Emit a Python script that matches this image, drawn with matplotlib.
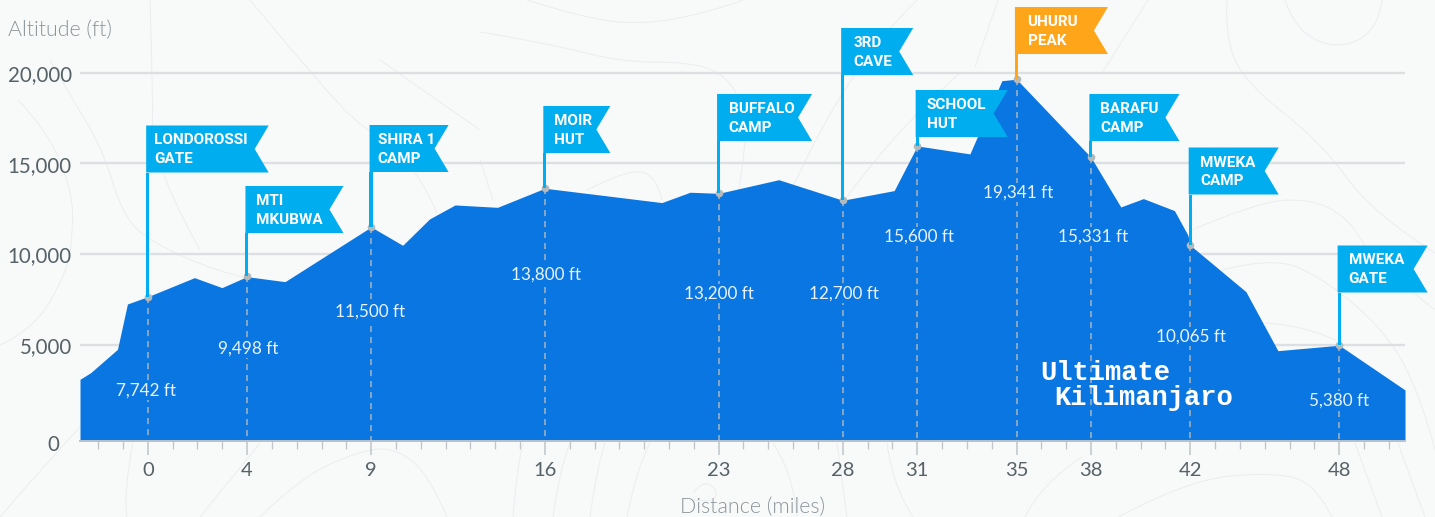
import matplotlib
matplotlib.use("Agg")
import matplotlib.pyplot as plt
from matplotlib.patches import PathPatch, Polygon
from matplotlib.path import Path
from matplotlib.transforms import IdentityTransform, ScaledTranslation

# ---- data ----
profile_miles = [-2.73, -2.3, -1.22, -0.82, 0, 1.88, 2.99, 3.99, 5.53, 9, 10.27, 11.35, 12.38, 14.09, 16,
                 20.71, 21.85, 23, 25.42, 28, 30.07, 31, 33.12, 34.41, 35, 38, 39.2, 40.11, 41.36, 41.9,
                 42, 44.24, 45.53, 48, 50.65]
profile_alt = [3115, 3480, 4765, 7260, 7660, 8710, 8160, 8765, 8490, 11500, 10490, 11940, 12710, 12580, 13630,
               12840, 13410, 13350, 14100, 12970, 13500, 15960, 15520, 19550, 19630, 15330, 12600, 13060, 12400, 11060,
               10490, 7940, 4690, 4990, 2530]
camp_miles = [0, 4, 9, 16, 23, 28, 31, 35, 38, 42, 48]
camp_alt = [7660, 8800, 11500, 13660, 13350, 12970, 15960, 19630, 15330, 10490, 4990]
camp_names = [("LONDOROSSI", "GATE"), ("MTI", "MKUBWA"), ("SHIRA 1", "CAMP"), ("MOIR", "HUT"),
              ("BUFFALO", "CAMP"), ("3RD", "CAVE"), ("SCHOOL", "HUT"), ("UHURU", "PEAK"),
              ("BARAFU", "CAMP"), ("MWEKA", "CAMP"), ("MWEKA", "GATE")]
camp_labels = ["7,742 ft", "9,498 ft", "11,500 ft", "13,800 ft", "13,200 ft", "12,700 ft", "15,600 ft",
               "19,341 ft", "15,331 ft", "10,065 ft", "5,380 ft"]
y_ticks = [0, 5000, 10000, 15000, 20000]
y_tick_labels = ["0", "5,000", "10,000", "15,000", "20,000"]

# ---- layout (pixels) ----
W, H = 1435, 517
flag_top = [125.5, 186, 125, 106, 94, 28, 90, 7, 94, 147.5, 245.5]
flag_width = [122.5, 98, 79, 67, 95, 72, 92, 93, 90, 90, 90]
flag_text_dx = [6, 9, 6.5, 9, 10, 11, 9.5, 11, 9, 10, 9.5]
label_x = [146, 248.5, 370.5, 546, 718.5, 844, 919.5, 1018, 1093, 1191, 1339]
label_y = [390.5, 348.5, 311.5, 274.5, 293.5, 293.5, 236.5, 192.5, 236.5, 336.5, 400.5]
contours = [
    [(18,100),(47,130),(72,190),(73,233),(67,273),(33,330),(0,345)],
    [(50,60),(73,100),(103,150),(123,217),(153,243),(213,270),(253,280)],
    [(150,0),(153,100),(152,133),(167,190),(200,250)],
    [(250,0),(333,100),(367,130),(417,167),(437,213)],
    [(380,60),(437,100),(480,130)],
    [(80,427),(40,470),(0,517)],
    [(133,443),(123,493),(127,517)],
    [(260,443),(200,517)],
    [(260,517),(300,477),(367,448),(400,450),(430,477),(447,517)],
    [(527,0),(580,17),(640,25),(707,13),(743,0)],
    [(480,32),(547,43),(620,62),(687,62),(723,73),(743,103),(747,143),(737,200)],
    [(587,190),(630,168),(657,177),(662,200)],
    [(480,160),(493,200)],
    [(917,0),(847,67),(793,187)],
    [(960,73),(893,133),(847,197)],
    [(513,517),(517,467),(523,443)],
    [(553,517),(560,467),(570,443)],
    [(590,517),(597,467),(605,443)],
    [(627,517),(637,467),(650,443)],
    [(693,493),(703,480),(718,490),(713,503),(693,500)],
    [(773,443),(793,473),(797,517)],
    [(837,443),(847,517)],
    [(887,443),(893,487),(913,517)],
    [(1148,0),(1102,73)],
    [(998,0),(975,67)],
    [(1227,0),(1225,33),(1242,80),(1322,143),(1372,213),(1435,253)],
    [(1285,0),(1295,30),(1338,50),(1378,30),(1382,0)],
    [(1192,230),(1255,203),(1308,198),(1348,217),(1375,263),(1435,310)],
    [(1222,270),(1272,257),(1322,277),(1388,333),(1422,400),(1435,450)],
    [(1265,323),(1305,325),(1342,343)],
    [(1355,443),(1382,517)],
    [(1398,443),(1425,517)],
    [(1118,517),(1188,480),(1272,472),(1315,483),(1332,517)],
    [(1025,517),(1042,483),(1082,457)],
]

BG = "#f8f9f9"
AREA = "#0a76e2"
FLAG = "#00aeef"
PEAK = "#ffa51a"
GRID = "#dde0e2"
TICK = "#bfc5c9"
LABEL = "#566267"
TITLE = "#8a9499"

fig = plt.figure(figsize=(W / 100, H / 100), dpi=100, facecolor=BG)
ax = fig.add_axes([80 / W, (H - 441) / H, (1405 - 80) / W, 441 / H])
ax.patch.set_alpha(0)
ax.set_xlim(-2.73, 50.65)
ax.set_ylim(-280, 23990)


def px(x, y):
    return (x, H - y)


# contour background
for c in contours:
    pts = [px(*p) for p in c]
    verts = [pts[0]]
    codes = [Path.MOVETO]
    for i in range(1, len(pts) - 1):
        nxt = pts[i + 1] if i == len(pts) - 2 else ((pts[i][0] + pts[i + 1][0]) / 2, (pts[i][1] + pts[i + 1][1]) / 2)
        verts += [pts[i], nxt]
        codes += [Path.CURVE3, Path.CURVE3]
    if len(pts) == 2:
        verts.append(pts[1])
        codes.append(Path.LINETO)
    fig.add_artist(PathPatch(Path(verts, codes), transform=IdentityTransform(), fc="none",
                             ec="#ebedee", lw=0.7, zorder=-5))

# grid
ax.hlines(y_ticks[1:], -2.73, 50.65, color=GRID, lw=1.7, zorder=1)
# area
ax.fill_between(profile_miles, profile_alt, -280, color=AREA, lw=0, zorder=2)

# axes
for s in ["top", "left", "right"]:
    ax.spines[s].set_visible(False)
ax.spines["bottom"].set_color("#b9c3cc")
ax.spines["bottom"].set_linewidth(1.4)
ax.spines["bottom"].set_zorder(3)
ax.set_yticks(y_ticks)
ax.set_yticklabels(y_tick_labels, fontname="Lato", fontsize=14.8, color=LABEL)
ax.tick_params(axis="y", length=0, pad=6)
ylbls = ax.get_yticklabels()
for lb in ylbls:
    lb.set_transform(lb.get_transform() + ScaledTranslation(0, -0.3 / 100, fig.dpi_scale_trans))
ylbls[0].set_transform(ylbls[0].get_transform() + ScaledTranslation(-12 / 100, -6.7 / 100, fig.dpi_scale_trans))
ax.set_xticks(camp_miles)
ax.set_xticklabels([str(m) for m in camp_miles], fontname="Lato", fontsize=14.5, color=LABEL)
ax.set_xticks(range(-2, 51), minor=True)
ax.tick_params(axis="x", which="major", length=10, width=1.1, color=TICK, pad=5)
ax.tick_params(axis="x", which="minor", length=6, width=0.9, color=TICK)

fig.text(8 / W, 1 - 30 / H, "Altitude (ft)", fontname="Lato", fontweight=300, fontsize=15.4, color=TITLE, va="center")
fig.text(753 / W, 1 - 507 / H, "Distance (miles)", fontname="Lato", fontweight=300, fontsize=15.5, color=TITLE,
         va="center", ha="center")

# camps
fig.canvas.draw()
for i, (m, a) in enumerate(zip(camp_miles, camp_alt)):
    col = PEAK if camp_names[i][0] == "UHURU" else FLAG
    X, Y = ax.transData.transform((m, a))
    ax.plot([m, m], [a, -280], color="#a9b4bd", lw=1.1, dashes=(4, 3.2), zorder=3, clip_on=False)
    top = flag_top[i]
    bot = top + 47
    L = X - 1.6
    R = L + flag_width[i]
    fig.add_artist(Polygon([(L, H - top), (R, H - top), (R - 14, H - (top + bot) / 2), (R, H - bot), (L, H - bot)],
                           closed=True, transform=IdentityTransform(), fc=col, ec="none", zorder=4))
    fig.add_artist(Polygon([(X - 1.7, Y), (X + 1.4, Y), (X + 1.4, H - bot), (X - 1.7, H - bot)],
                           closed=True, transform=IdentityTransform(), fc=col, ec="none", zorder=4))
    ax.plot([m], [a], "o", ms=5.5, mfc="#b4b9bc", mec="none", zorder=6, clip_on=False)
    for j, line in enumerate(camp_names[i]):
        fig.text((X + flag_text_dx[i]) / W, 1 - (top + 15 + j * 18.7) / H, line, family="Roboto",
                 fontweight="bold", fontsize=11, color="white", va="center", ha="left", zorder=7)
    fig.text(label_x[i] / W, 1 - label_y[i] / H, camp_labels[i], fontname="Lato", fontsize=12.3, color="#e8f2fc",
             ha="center", va="center", zorder=7,
             bbox=dict(fc=AREA, ec="none", pad=1.0))

# logo
fig.text(1040 / W, 1 - 372.5 / H, "Ultimate", family="Liberation Mono", fontweight="bold", fontsize=19.5, color="white",
         va="center", zorder=7)
fig.text(1054 / W, 1 - 398 / H, "Kilimanjaro", family="Liberation Mono", fontweight="bold", fontsize=19.5, color="white",
         va="center", zorder=7)

fig.savefig("out.png", dpi=100, facecolor=BG)
